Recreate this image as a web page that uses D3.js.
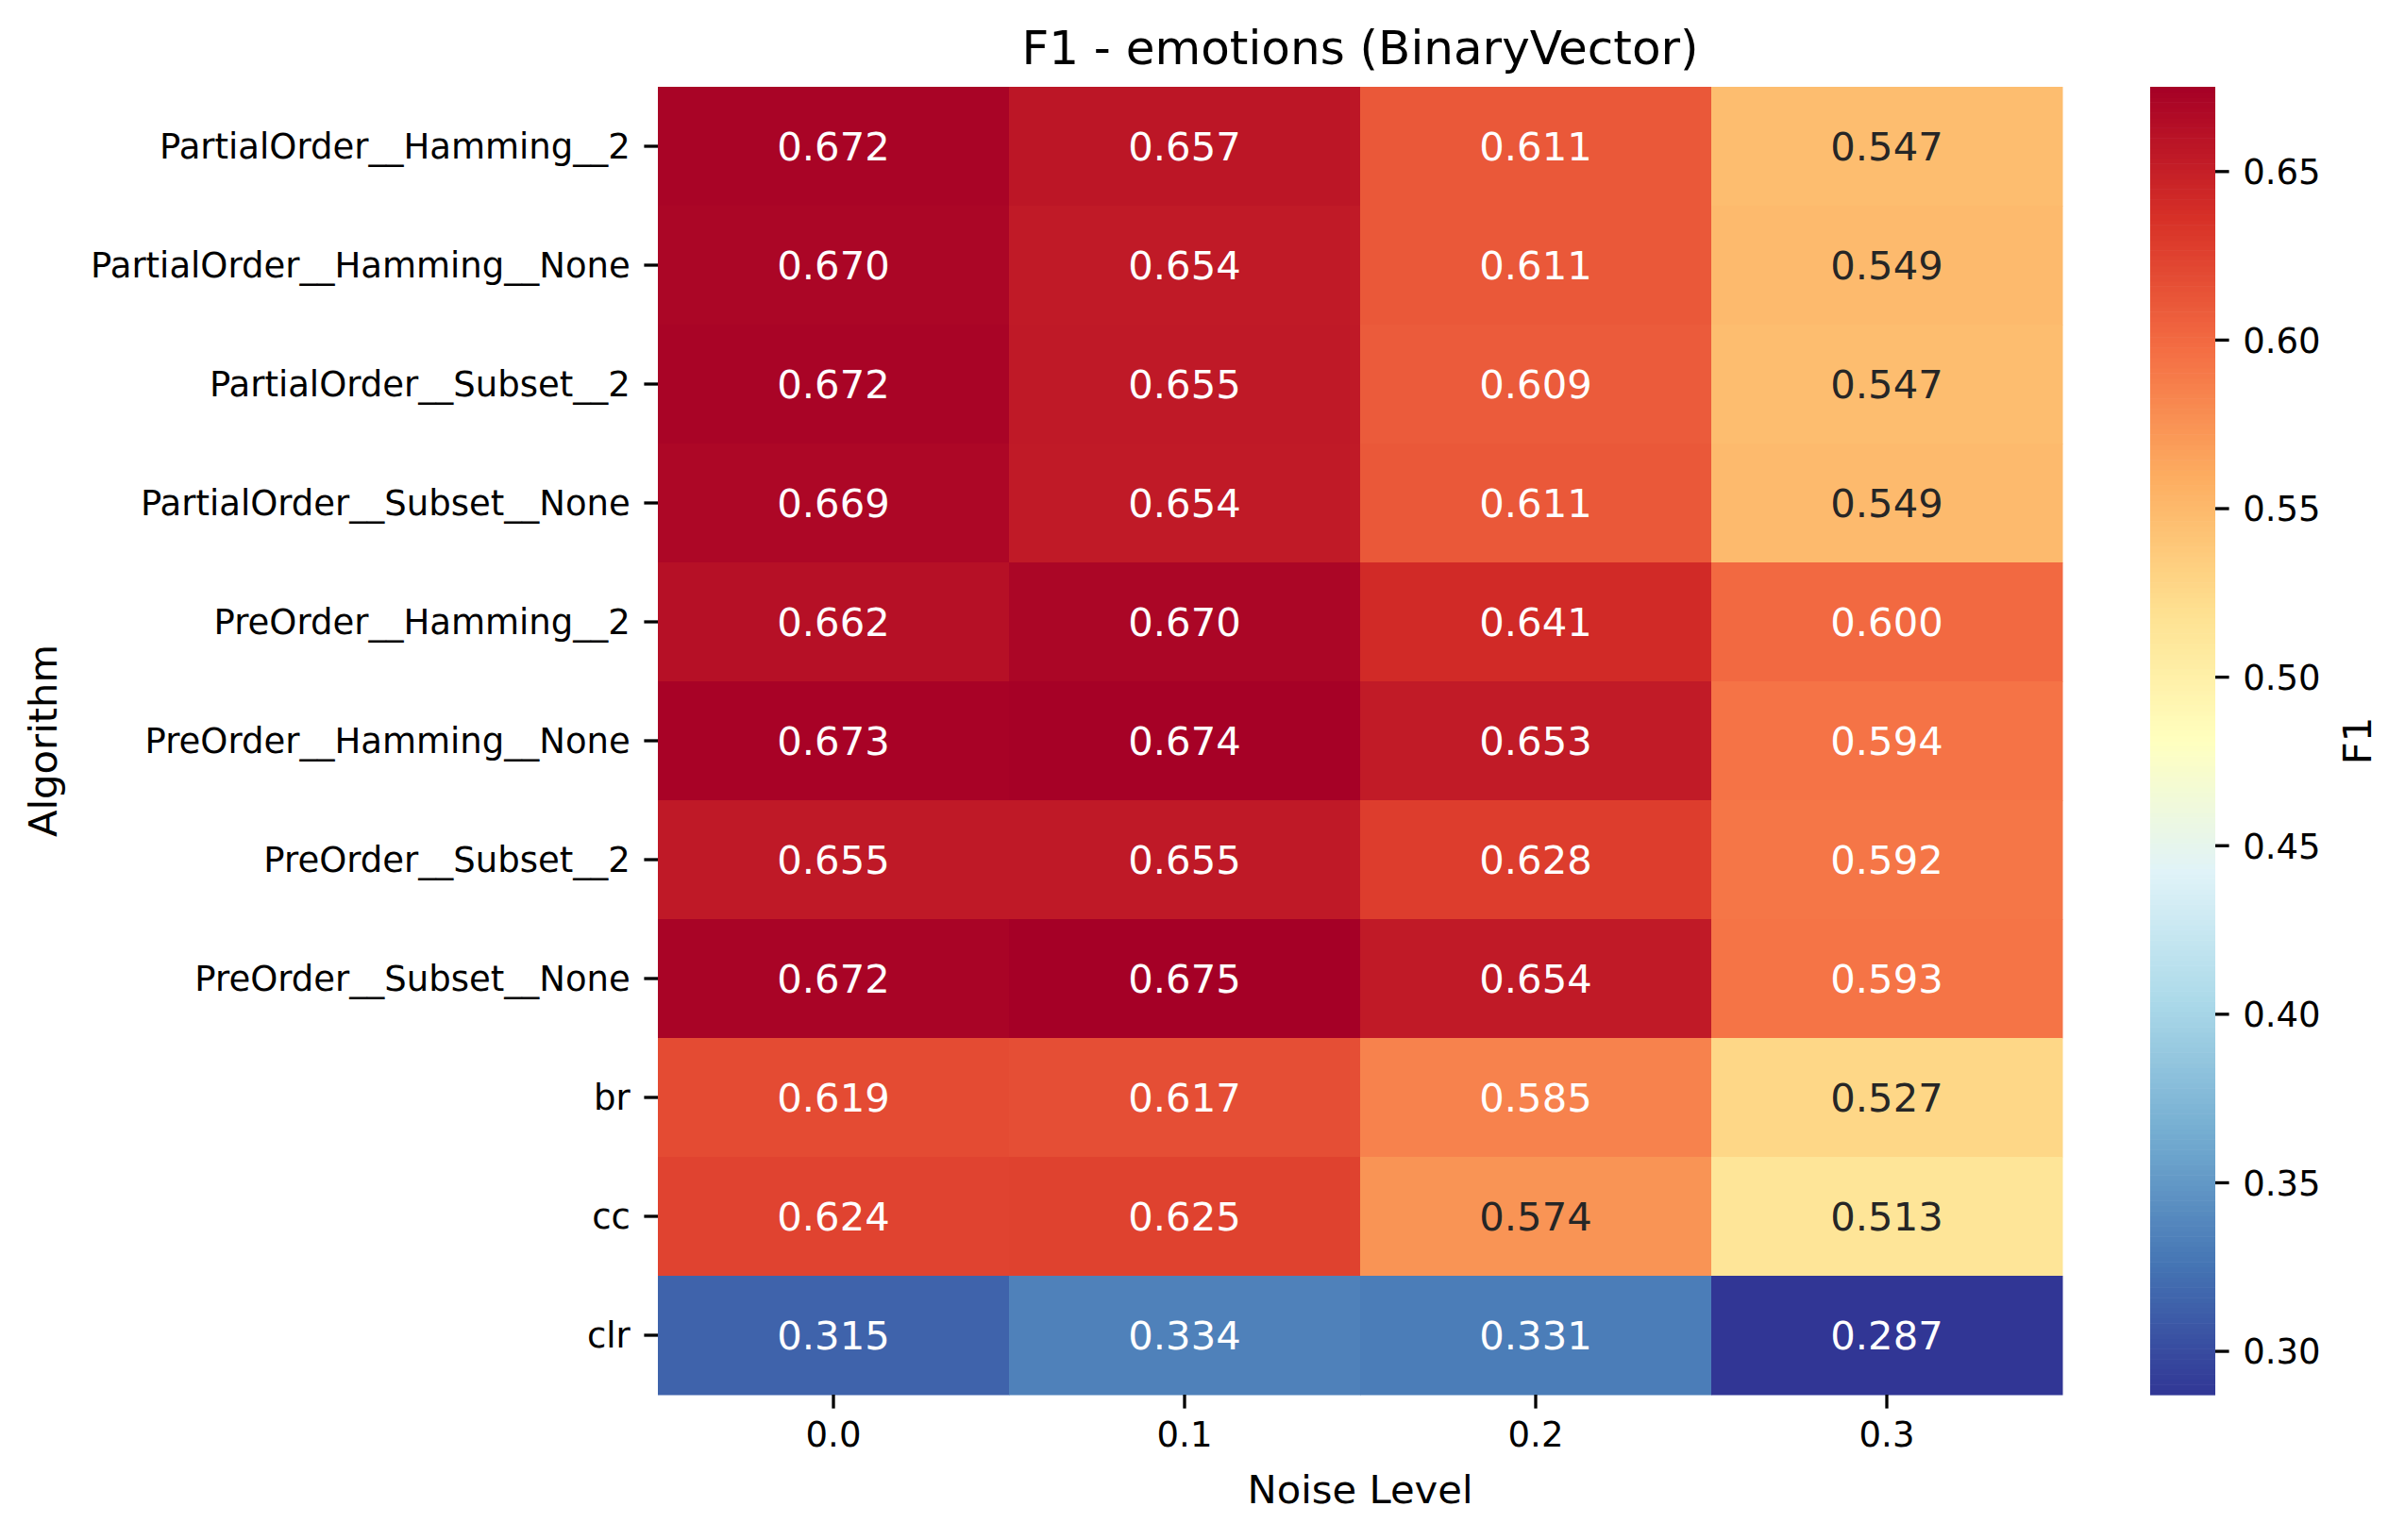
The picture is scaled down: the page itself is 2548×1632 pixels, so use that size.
<!DOCTYPE html>
<html>
<head>
<meta charset="utf-8">
<script src="https://cdn.jsdelivr.net/npm/d3@7"></script>
<style>
  body { margin: 0; background: #fff; }
  text { font-family: "DejaVu Sans", sans-serif; }
</style>
</head>
<body>
<div id="chart"></div>
<script>
// Data
const algorithms = [
    "PartialOrder__Hamming__2",
    "PartialOrder__Hamming__None",
    "PartialOrder__Subset__2",
    "PartialOrder__Subset__None",
    "PreOrder__Hamming__2",
    "PreOrder__Hamming__None",
    "PreOrder__Subset__2",
    "PreOrder__Subset__None",
    "br",
    "cc",
    "clr"
];
const noiseLevels = ["0.0", "0.1", "0.2", "0.3"];
const f1Values = [
    [0.672, 0.657, 0.611, 0.547],
    [0.670, 0.654, 0.611, 0.549],
    [0.672, 0.655, 0.609, 0.547],
    [0.669, 0.654, 0.611, 0.549],
    [0.662, 0.670, 0.641, 0.600],
    [0.673, 0.674, 0.653, 0.594],
    [0.655, 0.655, 0.628, 0.592],
    [0.672, 0.675, 0.654, 0.593],
    [0.619, 0.617, 0.585, 0.527],
    [0.624, 0.625, 0.574, 0.513],
    [0.315, 0.334, 0.331, 0.287]
];
const colorbarTicks = [0.30, 0.35, 0.40, 0.45, 0.50, 0.55, 0.60, 0.65];

// RdYlBu reversed (colorbrewer anchors, linear between them like matplotlib)
const rdylbu_r = ["#313695", "#4575b4", "#74add1", "#abd9e9", "#e0f3f8", "#ffffbf",
                  "#fee090", "#fdae61", "#f46d43", "#d73027", "#a50026"];

const W = 2548, H = 1632;
const fontSize = 41.7;      // annotations / axis labels
const tickFont = 37;        // tick labels
const tickLen = 14.6, tickW = 3.3;

// heatmap box
const hm = { left: 697, top: 92, right: 2185, bottom: 1478 };
// colorbar box
const cb = { left: 2278, right: 2347 };

const flat = f1Values.flat();
const vmin = d3.min(flat), vmax = d3.max(flat);

const t = d3.scaleLinear()
    .domain(d3.range(rdylbu_r.length).map(i => i / (rdylbu_r.length - 1)))
    .range(rdylbu_r)
    .interpolate(d3.interpolateRgb);
const color = v => t(Math.min(1, Math.max(0, (v - vmin) / (vmax - vmin))));

// seaborn's annotation colour rule
function textColor(c) {
    const rgb = d3.rgb(c);
    const lin = [rgb.r, rgb.g, rgb.b].map(x => {
        x = x / 255;
        return x <= 0.03928 ? x / 12.92 : Math.pow((x + 0.055) / 1.055, 2.4);
    });
    const lum = 0.2126 * lin[0] + 0.7152 * lin[1] + 0.0722 * lin[2];
    return lum > 0.408 ? "#262626" : "#ffffff";
}

const svg = d3.select("#chart").append("svg")
    .attr("width", W)
    .attr("height", H);

const x = d3.scaleBand().domain(noiseLevels).range([hm.left, hm.right]);
const y = d3.scaleBand().domain(algorithms).range([hm.top, hm.bottom]);

// cells
const cells = [];
f1Values.forEach((row, i) => row.forEach((v, j) => cells.push({ alg: algorithms[i], noise: noiseLevels[j], v })));

svg.append("g").selectAll("rect")
    .data(cells)
    .enter().append("rect")
    .attr("x", d => x(d.noise))
    .attr("y", d => y(d.alg))
    .attr("width", x.bandwidth() + 0.5)
    .attr("height", y.bandwidth() + 0.5)
    .attr("fill", d => color(d.v));

svg.append("g").selectAll("text")
    .data(cells)
    .enter().append("text")
    .attr("x", d => x(d.noise) + x.bandwidth() / 2)
    .attr("y", d => y(d.alg) + y.bandwidth() / 2)
    .attr("text-anchor", "middle")
    .attr("dominant-baseline", "central")
    .attr("font-size", fontSize)
    .attr("fill", d => textColor(color(d.v)))
    .text(d => d.v.toFixed(3));

// axes
const xAxis = svg.append("g")
    .attr("transform", `translate(0,${hm.bottom})`)
    .call(d3.axisBottom(x).tickSize(tickLen).tickPadding(14));
const yAxis = svg.append("g")
    .attr("transform", `translate(${hm.left},0)`)
    .call(d3.axisLeft(y).tickSize(tickLen).tickPadding(14.6));

[xAxis, yAxis].forEach(g => {
    g.select(".domain").remove();
    g.selectAll(".tick line").attr("stroke", "#000").attr("stroke-width", tickW);
    g.selectAll(".tick text")
        .attr("fill", "#000")
        .attr("font-size", tickFont)
        .attr("font-family", "DejaVu Sans");
});
yAxis.selectAll(".tick text").attr("dy", "0.36em");

// axis labels and title
svg.append("text")
    .attr("x", (hm.left + hm.right) / 2)
    .attr("y", 1593)
    .attr("text-anchor", "middle")
    .attr("font-size", fontSize)
    .text("Noise Level");

svg.append("text")
    .attr("transform", `translate(60,${(hm.top + hm.bottom) / 2}) rotate(-90)`)
    .attr("text-anchor", "middle")
    .attr("font-size", fontSize)
    .text("Algorithm");

svg.append("text")
    .attr("x", (hm.left + hm.right) / 2)
    .attr("y", 68)
    .attr("text-anchor", "middle")
    .attr("font-size", 50)
    .text("F1 - emotions (BinaryVector)");

// colorbar
const cy = d3.scaleLinear().domain([vmin, vmax]).range([hm.bottom, hm.top]);
const steps = d3.range(256);
const stepH = (hm.bottom - hm.top) / steps.length;
svg.append("g").selectAll("rect")
    .data(steps)
    .enter().append("rect")
    .attr("x", cb.left)
    .attr("y", i => hm.bottom - (i + 1) * stepH)
    .attr("width", cb.right - cb.left)
    .attr("height", stepH + 0.6)
    .attr("fill", i => t((i + 0.5) / steps.length));

const cbAxis = svg.append("g")
    .attr("transform", `translate(${cb.right},0)`)
    .call(d3.axisRight(cy).tickValues(colorbarTicks).tickFormat(d3.format(".2f"))
        .tickSize(tickLen).tickPadding(14.6));
cbAxis.select(".domain").remove();
cbAxis.selectAll(".tick line").attr("stroke", "#000").attr("stroke-width", tickW);
cbAxis.selectAll(".tick text")
    .attr("fill", "#000")
    .attr("font-size", tickFont)
    .attr("font-family", "DejaVu Sans")
    .attr("dy", "0.36em");

svg.append("text")
    .attr("transform", `translate(2512,${(hm.top + hm.bottom) / 2}) rotate(-90)`)
    .attr("text-anchor", "middle")
    .attr("font-size", fontSize)
    .text("F1");
</script>
</body>
</html>
